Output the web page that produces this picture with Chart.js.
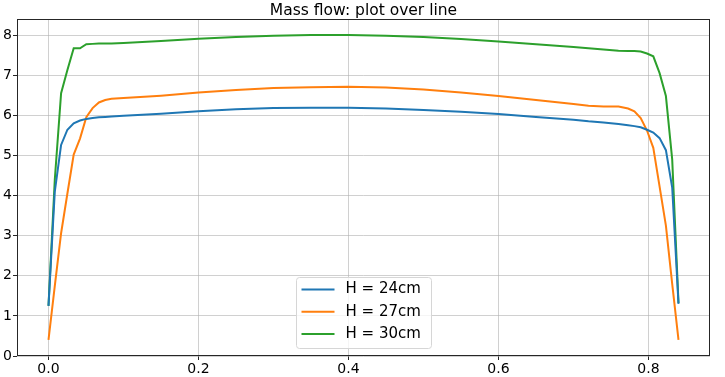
<!DOCTYPE html>
<html>
<head>
<meta charset="utf-8">
<title>Mass flow: plot over line</title>
<script src="https://cdn.jsdelivr.net/npm/chart.js@4"></script>
<style>
  html, body { margin: 0; padding: 0; background: #fff; }
</style>
</head>
<body>
<canvas id="graficoVazao" width="725" height="377"></canvas>
<script>
// posições ao longo da linha
const posicoes = [0, 0.0084, 0.0168, 0.0252, 0.0336, 0.042, 0.0504, 0.0588, 0.0672, 0.0756, 0.084,
    0.1, 0.15, 0.2, 0.25, 0.3, 0.35, 0.4, 0.45, 0.5, 0.55, 0.6, 0.65, 0.7, 0.72, 0.74, 0.76,
    0.7728, 0.7812, 0.7896, 0.798, 0.8064, 0.8148, 0.8232, 0.8316, 0.84];

const vazaoH24 = [1.25, 4.1, 5.26, 5.64, 5.8, 5.87, 5.91, 5.93, 5.95, 5.96, 5.97,
    5.99, 6.04, 6.1, 6.15, 6.18, 6.19, 6.19, 6.17, 6.13, 6.09, 6.03, 5.96, 5.89, 5.85, 5.82, 5.78,
    5.75, 5.73, 5.7, 5.64, 5.57, 5.43, 5.13, 4.2, 1.3];

const vazaoH27 = [0.4, 1.75, 3.06, 4.05, 5.02, 5.42, 5.95, 6.18, 6.32, 6.38, 6.41,
    6.43, 6.49, 6.57, 6.63, 6.68, 6.7, 6.71, 6.69, 6.64, 6.57, 6.48, 6.38, 6.28, 6.24, 6.22, 6.22,
    6.17, 6.1, 5.93, 5.62, 5.19, 4.22, 3.25, 1.8, 0.4];

const vazaoH30 = [1.25, 4.4, 6.55, 7.13, 7.67, 7.67, 7.77, 7.78, 7.79, 7.79, 7.79,
    7.8, 7.85, 7.91, 7.95, 7.98, 8.0, 8.0, 7.98, 7.95, 7.9, 7.84, 7.77, 7.7, 7.67, 7.64, 7.61,
    7.6, 7.6, 7.59, 7.54, 7.47, 7.05, 6.48, 4.9, 1.32];

const rotulos = ['H = 24cm', 'H = 27cm', 'H = 30cm'];
const titulo = 'Mass flow: plot over line';
const ticksX = [0, 0.2, 0.4, 0.6, 0.8];
const ticksY = [0, 1, 2, 3, 4, 5, 6, 7, 8];

const cores = ['#1f77b4', '#ff7f0e', '#2ca02c'];
const fonte = 'DejaVu Sans';

function pontos(ys) {
    return posicoes.map((x, i) => ({ x: x, y: ys[i] }));
}

// moldura em volta da área do gráfico + título centrado nela (estilo matplotlib)
const moldura = {
    id: 'moldura',
    afterDraw(chart) {
        const { ctx, chartArea: a } = chart;
        ctx.save();
        ctx.strokeStyle = '#262626';
        ctx.lineWidth = 1;
        ctx.strokeRect(Math.round(a.left) + 0.5, Math.round(a.top) + 0.5,
            Math.round(a.right - a.left) - 1, Math.round(a.bottom - a.top) - 1);
        ctx.fillStyle = '#000';
        ctx.font = '15.5px "' + fonte + '"';
        ctx.textAlign = 'center';
        ctx.textBaseline = 'alphabetic';
        ctx.fillText(titulo, (a.left + a.right) / 2, 15);
        ctx.restore();
    }
};

// legenda dentro do gráfico, embaixo no centro
const legendaCaixa = {
    id: 'legendaCaixa',
    afterDraw(chart) {
        const { ctx, chartArea: a } = chart;
        const w = 135, h = 71;
        const x0 = Math.round((a.left + a.right) / 2 - w / 2) + 0.5;
        const y0 = Math.round(a.bottom - 8 - h) + 0.5;
        ctx.save();
        ctx.beginPath();
        ctx.roundRect(x0, y0, w, h, 3);
        ctx.fillStyle = 'rgba(255,255,255,0.8)';
        ctx.fill();
        ctx.strokeStyle = '#d6d6d6';
        ctx.lineWidth = 1;
        ctx.stroke();
        ctx.font = '15px "' + fonte + '"';
        ctx.textBaseline = 'middle';
        chart.data.datasets.forEach((ds, i) => {
            const y = y0 + 12 + i * 22.3;
            ctx.beginPath();
            ctx.moveTo(x0 + 5, y);
            ctx.lineTo(x0 + 38, y);
            ctx.strokeStyle = ds.borderColor;
            ctx.lineWidth = 2;
            ctx.stroke();
            ctx.fillStyle = '#000';
            ctx.fillText(ds.label, x0 + 49, y);
        });
        ctx.restore();
    }
};

const ctx = document.getElementById('graficoVazao').getContext('2d');

new Chart(ctx, {
    type: 'line',
    data: {
        datasets: [vazaoH24, vazaoH27, vazaoH30].map((serie, i) => ({
            label: rotulos[i],
            data: pontos(serie),
            borderColor: cores[i],
            backgroundColor: cores[i],
            borderWidth: 2,
            pointRadius: 0,
            tension: 0,
            fill: false
        }))
    },
    options: {
        responsive: false,
        animation: false,
        devicePixelRatio: 1,
        layout: { padding: { left: 0, right: 15, top: 19, bottom: 0 } },
        plugins: {
            legend: { display: false },
            tooltip: { enabled: false },
            title: { display: false }
        },
        scales: {
            x: {
                type: 'linear',
                min: -0.042,
                max: 0.882,
                afterBuildTicks: s => { s.ticks = ticksX.map(v => ({ value: v })); },
                afterFit: s => { s.height = 21; },
                ticks: {
                    color: '#000',
                    font: { family: fonte, size: 14 },
                    padding: 1,
                    maxRotation: 0,
                    callback: v => v.toFixed(1)
                },
                grid: { color: 'rgba(176,176,176,0.6)', lineWidth: 1, tickLength: 4, tickColor: '#262626' },
                border: { display: false }
            },
            y: {
                min: 0,
                max: 8.4,
                afterBuildTicks: s => { s.ticks = ticksY.map(v => ({ value: v })); },
                afterFit: s => { s.width = 17; },
                ticks: {
                    color: '#000',
                    font: { family: fonte, size: 14 },
                    padding: 1,
                    callback: v => String(v)
                },
                grid: { color: 'rgba(176,176,176,0.6)', lineWidth: 1, tickLength: 4, tickColor: '#262626' },
                border: { display: false }
            }
        }
    },
    plugins: [moldura, legendaCaixa]
});
</script>
</body>
</html>
